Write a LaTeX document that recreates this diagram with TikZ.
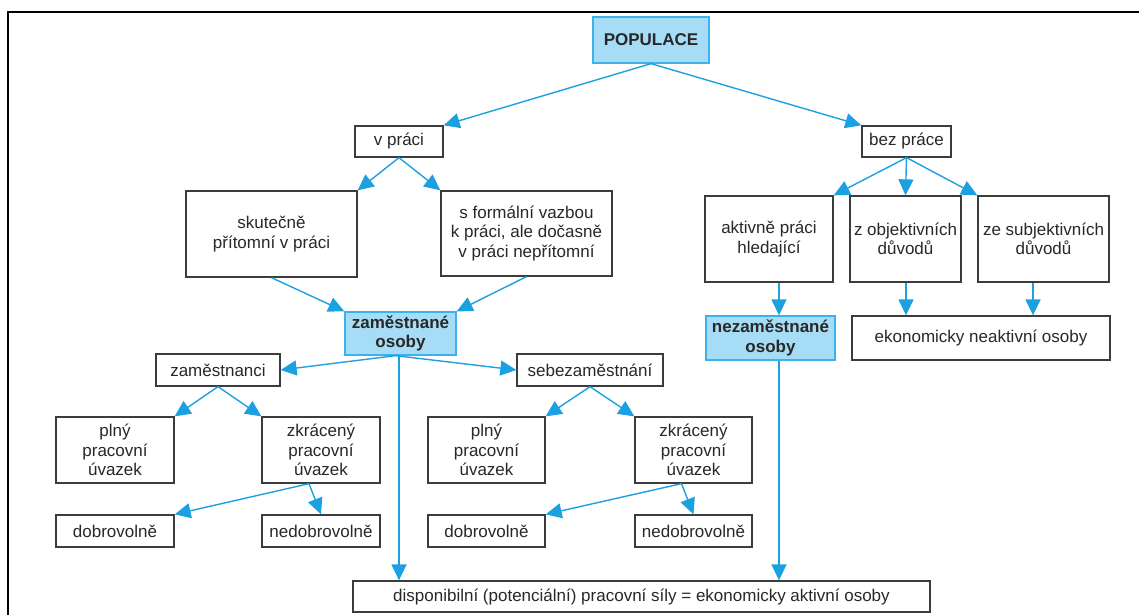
\documentclass[tikz,border=0pt]{standalone}
\usepackage{fontspec}
\setmainfont{Liberation Sans}
\usetikzlibrary{arrows.meta}
\definecolor{arrowblue}{RGB}{27,161,226}
\definecolor{fillblue}{RGB}{166,220,246}
\definecolor{edgeblue}{RGB}{60,178,234}
\definecolor{boxgray}{RGB}{60,60,60}
\definecolor{txtgray}{RGB}{40,40,40}
\begin{document}
\begin{tikzpicture}[x=1pt,y=-1pt,
  box/.style={draw=boxgray, line width=1.3pt, fill=white, inner sep=0pt, align=center,
    text=txtgray, font=\fontsize{17}{19.5}\selectfont},
  bluebox/.style={box, draw=edgeblue, fill=fillblue, font=\bfseries\fontsize{17}{19.5}\selectfont},
  conn/.style={draw=arrowblue, line width=1.4pt, -{Triangle[length=16pt,width=15pt]}},
  frameline/.style={draw=black, line width=2pt}
]
\useasboundingbox (0,0) rectangle (1139,615);
\draw[frameline] (8,615) -- (8,12) -- (1139,12);

% top
\node[bluebox, minimum width=116pt, minimum height=46pt] (pop) at (651,40) {POPULACE};
\node[box, minimum width=88pt, minimum height=31pt] (vprac) at (399,141.5) {v práci};
\node[box, minimum width=89pt, minimum height=31pt] (bez) at (906.5,141.5) {bez práce};

% second level
\node[box, minimum width=171pt, minimum height=86pt] (skut) at (271.5,234) {skutečně\\přítomní v práci};
\node[box, minimum width=171pt, minimum height=85pt] (sform) at (526.5,233.5) {s formální vazbou\\k práci, ale dočasně\\v práci nepřítomní};
\node[box, minimum width=128pt, minimum height=86pt] (aktiv) at (769,239) {aktivně práci\\hledající};
\node[box, minimum width=111pt, minimum height=86pt] (obj) at (905.5,239) {z objektivních\\důvodů};
\node[box, minimum width=131pt, minimum height=86pt] (subj) at (1043.5,239) {ze subjektivních\\důvodů};

% third level
\node[bluebox, minimum width=111pt, minimum height=43pt] (zam) at (400.5,333.5) {zaměstnané\\osoby};
\node[bluebox, minimum width=129pt, minimum height=44pt] (nez) at (770.5,338) {nezaměstnané\\osoby};
\node[box, minimum width=258pt, minimum height=44pt] (ekon) at (981,338) {ekonomicky neaktivní osoby};

\node[box, minimum width=124pt, minimum height=32pt] (zci) at (218,370) {zaměstnanci};
\node[box, minimum width=146pt, minimum height=32pt] (seb) at (590,370) {sebezaměstnání};

\node[box, minimum width=118pt, minimum height=66pt] (plL) at (115,450) {plný\\pracovní\\úvazek};
\node[box, minimum width=118pt, minimum height=66pt] (zkL) at (321,450) {zkrácený\\pracovní\\úvazek};
\node[box, minimum width=117pt, minimum height=66pt] (plR) at (486.5,450) {plný\\pracovní\\úvazek};
\node[box, minimum width=117pt, minimum height=66pt] (zkR) at (693.5,450) {zkrácený\\pracovní\\úvazek};

\node[box, minimum width=118pt, minimum height=32pt] (dobL) at (115,531) {dobrovolně};
\node[box, minimum width=118pt, minimum height=32pt] (nedL) at (321,531) {nedobrovolně};
\node[box, minimum width=117pt, minimum height=32pt] (dobR) at (486.5,531) {dobrovolně};
\node[box, minimum width=117pt, minimum height=32pt] (nedR) at (693.5,531) {nedobrovolně};

\node[box, minimum width=577pt, minimum height=31pt] (disp) at (641.5,596.5) {disponibilní (potenciální) pracovní síly = ekonomicky aktivní osoby};

% connectors
\draw[conn] (pop.south) -- (vprac.north east);
\draw[conn] (pop.south) -- (bez.north west);
\draw[conn] (vprac.south) -- (skut.north east);
\draw[conn] (vprac.south) -- (sform.north west);
\draw[conn] (bez.south) -- (aktiv.north east);
\draw[conn] (bez.south) -- (obj.north);
\draw[conn] (bez.south) -- (subj.north west);
\draw[conn] (skut.south) -- (zam.north west);
\draw[conn] (sform.south) -- (zam.north east);
\draw[conn] ([xshift=-5pt]zam.south) -- (zci.east);
\draw[conn] ([xshift=-5pt]zam.south) -- (seb.west);
\draw[conn] ([xshift=-1.5pt]zam.south) -- ([xshift=-1.5pt]zam.south |- disp.north);
\draw[conn] (zci.south) -- (plL.north east);
\draw[conn] (zci.south) -- (zkL.north west);
\draw[conn] (seb.south) -- (plR.north east);
\draw[conn] (seb.south) -- (zkR.north west);
\draw[conn] ([xshift=-12pt]zkL.south) -- (dobL.north east);
\draw[conn] ([xshift=-12pt]zkL.south) -- (nedL.north);
\draw[conn] ([xshift=-12pt]zkR.south) -- (dobR.north east);
\draw[conn] ([xshift=-12pt]zkR.south) -- (nedR.north);
\draw[conn] ([xshift=10pt]aktiv.south) -- ([xshift=10pt]aktiv.south |- nez.north);
\draw[conn] ([xshift=0.5pt]obj.south) -- ([xshift=0.5pt]obj.south |- ekon.north);
\draw[conn] ([xshift=-10.5pt]subj.south) -- ([xshift=-10.5pt]subj.south |- ekon.north);
\draw[conn] ([xshift=8.5pt]nez.south) -- ([xshift=8.5pt]nez.south |- disp.north);
\end{tikzpicture}
\end{document}
